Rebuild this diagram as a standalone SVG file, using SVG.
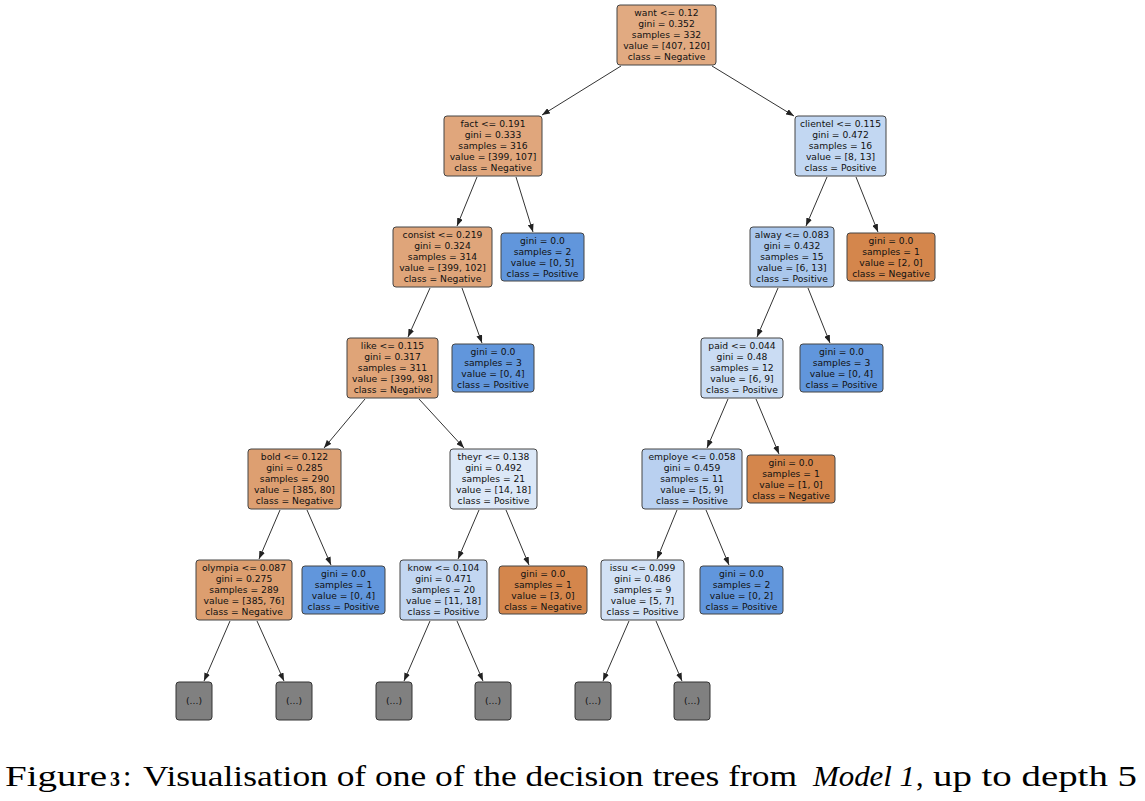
<svg xmlns="http://www.w3.org/2000/svg" width="1145" height="801" viewBox="0 0 1145 801">
<defs>
<marker id="ah" markerWidth="8" markerHeight="6" refX="8" refY="3" orient="auto" markerUnits="userSpaceOnUse">
<path d="M0,0 L8,3 L0,6 z" fill="#222"/>
</marker>
<style>
.box{stroke:#444;stroke-width:1;}
.t{font-family:"DejaVu Sans",sans-serif;font-size:9.2px;fill:#111;text-anchor:middle;}
.e{stroke:#333;stroke-width:1;fill:none;marker-end:url(#ah);}
.dots{fill:#808080;stroke:#333;stroke-width:1;}
.cap{font-family:"Liberation Serif",serif;font-size:30px;fill:#000;}
</style>
</defs>
<rect width="1145" height="801" fill="#fff"/>
<g id="connectors">
<line class="e" x1="621" y1="66" x2="542" y2="115"/>
<line class="e" x1="712" y1="66" x2="794" y2="116"/>
<line class="e" x1="477" y1="177" x2="457" y2="226"/>
<line class="e" x1="516" y1="177" x2="533" y2="232"/>
<line class="e" x1="827" y1="177" x2="806" y2="226"/>
<line class="e" x1="856" y1="177" x2="878" y2="232"/>
<line class="e" x1="430" y1="288" x2="408" y2="337"/>
<line class="e" x1="462" y1="288" x2="482" y2="343"/>
<line class="e" x1="778" y1="288" x2="757" y2="337"/>
<line class="e" x1="808" y1="288" x2="830" y2="343"/>
<line class="e" x1="365" y1="399" x2="324" y2="448"/>
<line class="e" x1="419" y1="399" x2="464" y2="448"/>
<line class="e" x1="728" y1="399" x2="707" y2="448"/>
<line class="e" x1="756" y1="399" x2="779" y2="454"/>
<line class="e" x1="280" y1="510" x2="259" y2="559"/>
<line class="e" x1="307" y1="510" x2="331" y2="565"/>
<line class="e" x1="479" y1="510" x2="458" y2="559"/>
<line class="e" x1="506" y1="510" x2="529" y2="565"/>
<line class="e" x1="677" y1="510" x2="657" y2="559"/>
<line class="e" x1="706" y1="510" x2="729" y2="565"/>
<line class="e" x1="230" y1="621" x2="204" y2="681"/>
<line class="e" x1="257" y1="621" x2="284" y2="681"/>
<line class="e" x1="430" y1="621" x2="404" y2="681"/>
<line class="e" x1="457" y1="621" x2="483" y2="681"/>
<line class="e" x1="629" y1="621" x2="603" y2="681"/>
<line class="e" x1="656" y1="621" x2="682" y2="681"/>
</g>
<g id="n-root">
<rect class="box" x="617" y="5" width="99" height="60" rx="3" fill="#e1aa81"/>
<text class="t" y="15.5"><tspan x="666.5">want &lt;= 0.12</tspan><tspan x="666.5" dy="11">gini = 0.352</tspan><tspan x="666.5" dy="11">samples = 332</tspan><tspan x="666.5" dy="11">value = [407, 120]</tspan><tspan x="666.5" dy="11">class = Negative</tspan></text>
</g>
<g id="n-fact">
<rect class="box" x="444" y="116" width="98" height="60" rx="3" fill="#e0a67c"/>
<text class="t" y="126.5"><tspan x="493">fact &lt;= 0.191</tspan><tspan x="493" dy="11">gini = 0.333</tspan><tspan x="493" dy="11">samples = 316</tspan><tspan x="493" dy="11">value = [399, 107]</tspan><tspan x="493" dy="11">class = Negative</tspan></text>
</g>
<g id="n-clientel">
<rect class="box" x="795" y="116" width="91" height="60" rx="3" fill="#c2d7f2"/>
<text class="t" y="126.5"><tspan x="840.5">clientel &lt;= 0.115</tspan><tspan x="840.5" dy="11">gini = 0.472</tspan><tspan x="840.5" dy="11">samples = 16</tspan><tspan x="840.5" dy="11">value = [8, 13]</tspan><tspan x="840.5" dy="11">class = Positive</tspan></text>
</g>
<g id="n-consist">
<rect class="box" x="393" y="227" width="99" height="60" rx="3" fill="#dfa57a"/>
<text class="t" y="237.5"><tspan x="442.5">consist &lt;= 0.219</tspan><tspan x="442.5" dy="11">gini = 0.324</tspan><tspan x="442.5" dy="11">samples = 314</tspan><tspan x="442.5" dy="11">value = [399, 102]</tspan><tspan x="442.5" dy="11">class = Negative</tspan></text>
</g>
<g id="n-leafA">
<rect class="box" x="501" y="233" width="83" height="48" rx="3" fill="#6196dc"/>
<text class="t" y="243.5"><tspan x="542.5">gini = 0.0</tspan><tspan x="542.5" dy="11">samples = 2</tspan><tspan x="542.5" dy="11">value = [0, 5]</tspan><tspan x="542.5" dy="11">class = Positive</tspan></text>
</g>
<g id="n-alway">
<rect class="box" x="750" y="227" width="84" height="60" rx="3" fill="#aac7ec"/>
<text class="t" y="237.5"><tspan x="792">alway &lt;= 0.083</tspan><tspan x="792" dy="11">gini = 0.432</tspan><tspan x="792" dy="11">samples = 15</tspan><tspan x="792" dy="11">value = [6, 13]</tspan><tspan x="792" dy="11">class = Positive</tspan></text>
</g>
<g id="n-leafB">
<rect class="box" x="847" y="233" width="88" height="48" rx="3" fill="#d4864c"/>
<text class="t" y="243.5"><tspan x="891">gini = 0.0</tspan><tspan x="891" dy="11">samples = 1</tspan><tspan x="891" dy="11">value = [2, 0]</tspan><tspan x="891" dy="11">class = Negative</tspan></text>
</g>
<g id="n-like">
<rect class="box" x="347" y="338" width="91" height="60" rx="3" fill="#dfa478"/>
<text class="t" y="348.5"><tspan x="392.5">like &lt;= 0.115</tspan><tspan x="392.5" dy="11">gini = 0.317</tspan><tspan x="392.5" dy="11">samples = 311</tspan><tspan x="392.5" dy="11">value = [399, 98]</tspan><tspan x="392.5" dy="11">class = Negative</tspan></text>
</g>
<g id="n-leafC">
<rect class="box" x="452" y="344" width="82" height="48" rx="3" fill="#6196dc"/>
<text class="t" y="354.5"><tspan x="493">gini = 0.0</tspan><tspan x="493" dy="11">samples = 3</tspan><tspan x="493" dy="11">value = [0, 4]</tspan><tspan x="493" dy="11">class = Positive</tspan></text>
</g>
<g id="n-paid">
<rect class="box" x="701" y="338" width="82" height="60" rx="3" fill="#cadcf3"/>
<text class="t" y="348.5"><tspan x="742">paid &lt;= 0.044</tspan><tspan x="742" dy="11">gini = 0.48</tspan><tspan x="742" dy="11">samples = 12</tspan><tspan x="742" dy="11">value = [6, 9]</tspan><tspan x="742" dy="11">class = Positive</tspan></text>
</g>
<g id="n-leafD">
<rect class="box" x="800" y="344" width="83" height="48" rx="3" fill="#6196dc"/>
<text class="t" y="354.5"><tspan x="841.5">gini = 0.0</tspan><tspan x="841.5" dy="11">samples = 3</tspan><tspan x="841.5" dy="11">value = [0, 4]</tspan><tspan x="841.5" dy="11">class = Positive</tspan></text>
</g>
<g id="n-bold">
<rect class="box" x="248" y="449" width="93" height="60" rx="3" fill="#dd9f71"/>
<text class="t" y="459.5"><tspan x="294.5">bold &lt;= 0.122</tspan><tspan x="294.5" dy="11">gini = 0.285</tspan><tspan x="294.5" dy="11">samples = 290</tspan><tspan x="294.5" dy="11">value = [385, 80]</tspan><tspan x="294.5" dy="11">class = Negative</tspan></text>
</g>
<g id="n-theyr">
<rect class="box" x="450" y="449" width="87" height="60" rx="3" fill="#dce8f7"/>
<text class="t" y="459.5"><tspan x="493.5">theyr &lt;= 0.138</tspan><tspan x="493.5" dy="11">gini = 0.492</tspan><tspan x="493.5" dy="11">samples = 21</tspan><tspan x="493.5" dy="11">value = [14, 18]</tspan><tspan x="493.5" dy="11">class = Positive</tspan></text>
</g>
<g id="n-employe">
<rect class="box" x="642" y="449" width="100" height="60" rx="3" fill="#b9d0f0"/>
<text class="t" y="459.5"><tspan x="692">employe &lt;= 0.058</tspan><tspan x="692" dy="11">gini = 0.459</tspan><tspan x="692" dy="11">samples = 11</tspan><tspan x="692" dy="11">value = [5, 9]</tspan><tspan x="692" dy="11">class = Positive</tspan></text>
</g>
<g id="n-leafE">
<rect class="box" x="747" y="455" width="88" height="48" rx="3" fill="#d4864c"/>
<text class="t" y="465.5"><tspan x="791">gini = 0.0</tspan><tspan x="791" dy="11">samples = 1</tspan><tspan x="791" dy="11">value = [1, 0]</tspan><tspan x="791" dy="11">class = Negative</tspan></text>
</g>
<g id="n-olympia">
<rect class="box" x="196" y="560" width="96" height="60" rx="3" fill="#dc9e6f"/>
<text class="t" y="570.5"><tspan x="244">olympia &lt;= 0.087</tspan><tspan x="244" dy="11">gini = 0.275</tspan><tspan x="244" dy="11">samples = 289</tspan><tspan x="244" dy="11">value = [385, 76]</tspan><tspan x="244" dy="11">class = Negative</tspan></text>
</g>
<g id="n-leafF">
<rect class="box" x="302" y="566" width="83" height="48" rx="3" fill="#6196dc"/>
<text class="t" y="576.5"><tspan x="343.5">gini = 0.0</tspan><tspan x="343.5" dy="11">samples = 1</tspan><tspan x="343.5" dy="11">value = [0, 4]</tspan><tspan x="343.5" dy="11">class = Positive</tspan></text>
</g>
<g id="n-know">
<rect class="box" x="400" y="560" width="87" height="60" rx="3" fill="#c2d6f1"/>
<text class="t" y="570.5"><tspan x="443.5">know &lt;= 0.104</tspan><tspan x="443.5" dy="11">gini = 0.471</tspan><tspan x="443.5" dy="11">samples = 20</tspan><tspan x="443.5" dy="11">value = [11, 18]</tspan><tspan x="443.5" dy="11">class = Positive</tspan></text>
</g>
<g id="n-leafG">
<rect class="box" x="499" y="566" width="88" height="48" rx="3" fill="#d4864c"/>
<text class="t" y="576.5"><tspan x="543">gini = 0.0</tspan><tspan x="543" dy="11">samples = 1</tspan><tspan x="543" dy="11">value = [3, 0]</tspan><tspan x="543" dy="11">class = Negative</tspan></text>
</g>
<g id="n-issu">
<rect class="box" x="601" y="560" width="83" height="60" rx="3" fill="#d2e1f5"/>
<text class="t" y="570.5"><tspan x="642.5">issu &lt;= 0.099</tspan><tspan x="642.5" dy="11">gini = 0.486</tspan><tspan x="642.5" dy="11">samples = 9</tspan><tspan x="642.5" dy="11">value = [5, 7]</tspan><tspan x="642.5" dy="11">class = Positive</tspan></text>
</g>
<g id="n-leafH">
<rect class="box" x="700" y="566" width="83" height="48" rx="3" fill="#6196dc"/>
<text class="t" y="576.5"><tspan x="741.5">gini = 0.0</tspan><tspan x="741.5" dy="11">samples = 2</tspan><tspan x="741.5" dy="11">value = [0, 2]</tspan><tspan x="741.5" dy="11">class = Positive</tspan></text>
</g>
<g id="n-dots1"><rect class="dots" x="176" y="682" width="36" height="38" rx="3"/><text class="t" x="194" y="704">(...)</text></g>
<g id="n-dots2"><rect class="dots" x="276" y="682" width="36" height="38" rx="3"/><text class="t" x="294" y="704">(...)</text></g>
<g id="n-dots3"><rect class="dots" x="376" y="682" width="36" height="38" rx="3"/><text class="t" x="394" y="704">(...)</text></g>
<g id="n-dots4"><rect class="dots" x="475" y="682" width="36" height="38" rx="3"/><text class="t" x="493" y="704">(...)</text></g>
<g id="n-dots5"><rect class="dots" x="575" y="682" width="36" height="38" rx="3"/><text class="t" x="593" y="704">(...)</text></g>
<g id="n-dots6"><rect class="dots" x="674" y="682" width="36" height="38" rx="3"/><text class="t" x="692" y="704">(...)</text></g>
<g id="caption">
<text class="cap" x="5" y="786" textLength="102" lengthAdjust="spacingAndGlyphs">Figure</text>
<text class="cap" x="110" y="786" style="font-size:20px;font-weight:bold" textLength="10" lengthAdjust="spacingAndGlyphs">3</text>
<text class="cap" x="123" y="786">:</text>
<text class="cap" x="143" y="786" textLength="654" lengthAdjust="spacingAndGlyphs">Visualisation of one of the decision trees from</text>
<text class="cap" x="813" y="786" style="font-style:italic" textLength="102" lengthAdjust="spacingAndGlyphs">Model 1</text>
<text class="cap" x="916" y="786">,</text>
<text class="cap" x="933" y="786" textLength="204" lengthAdjust="spacingAndGlyphs">up to depth 5</text>
</g>
</svg>
